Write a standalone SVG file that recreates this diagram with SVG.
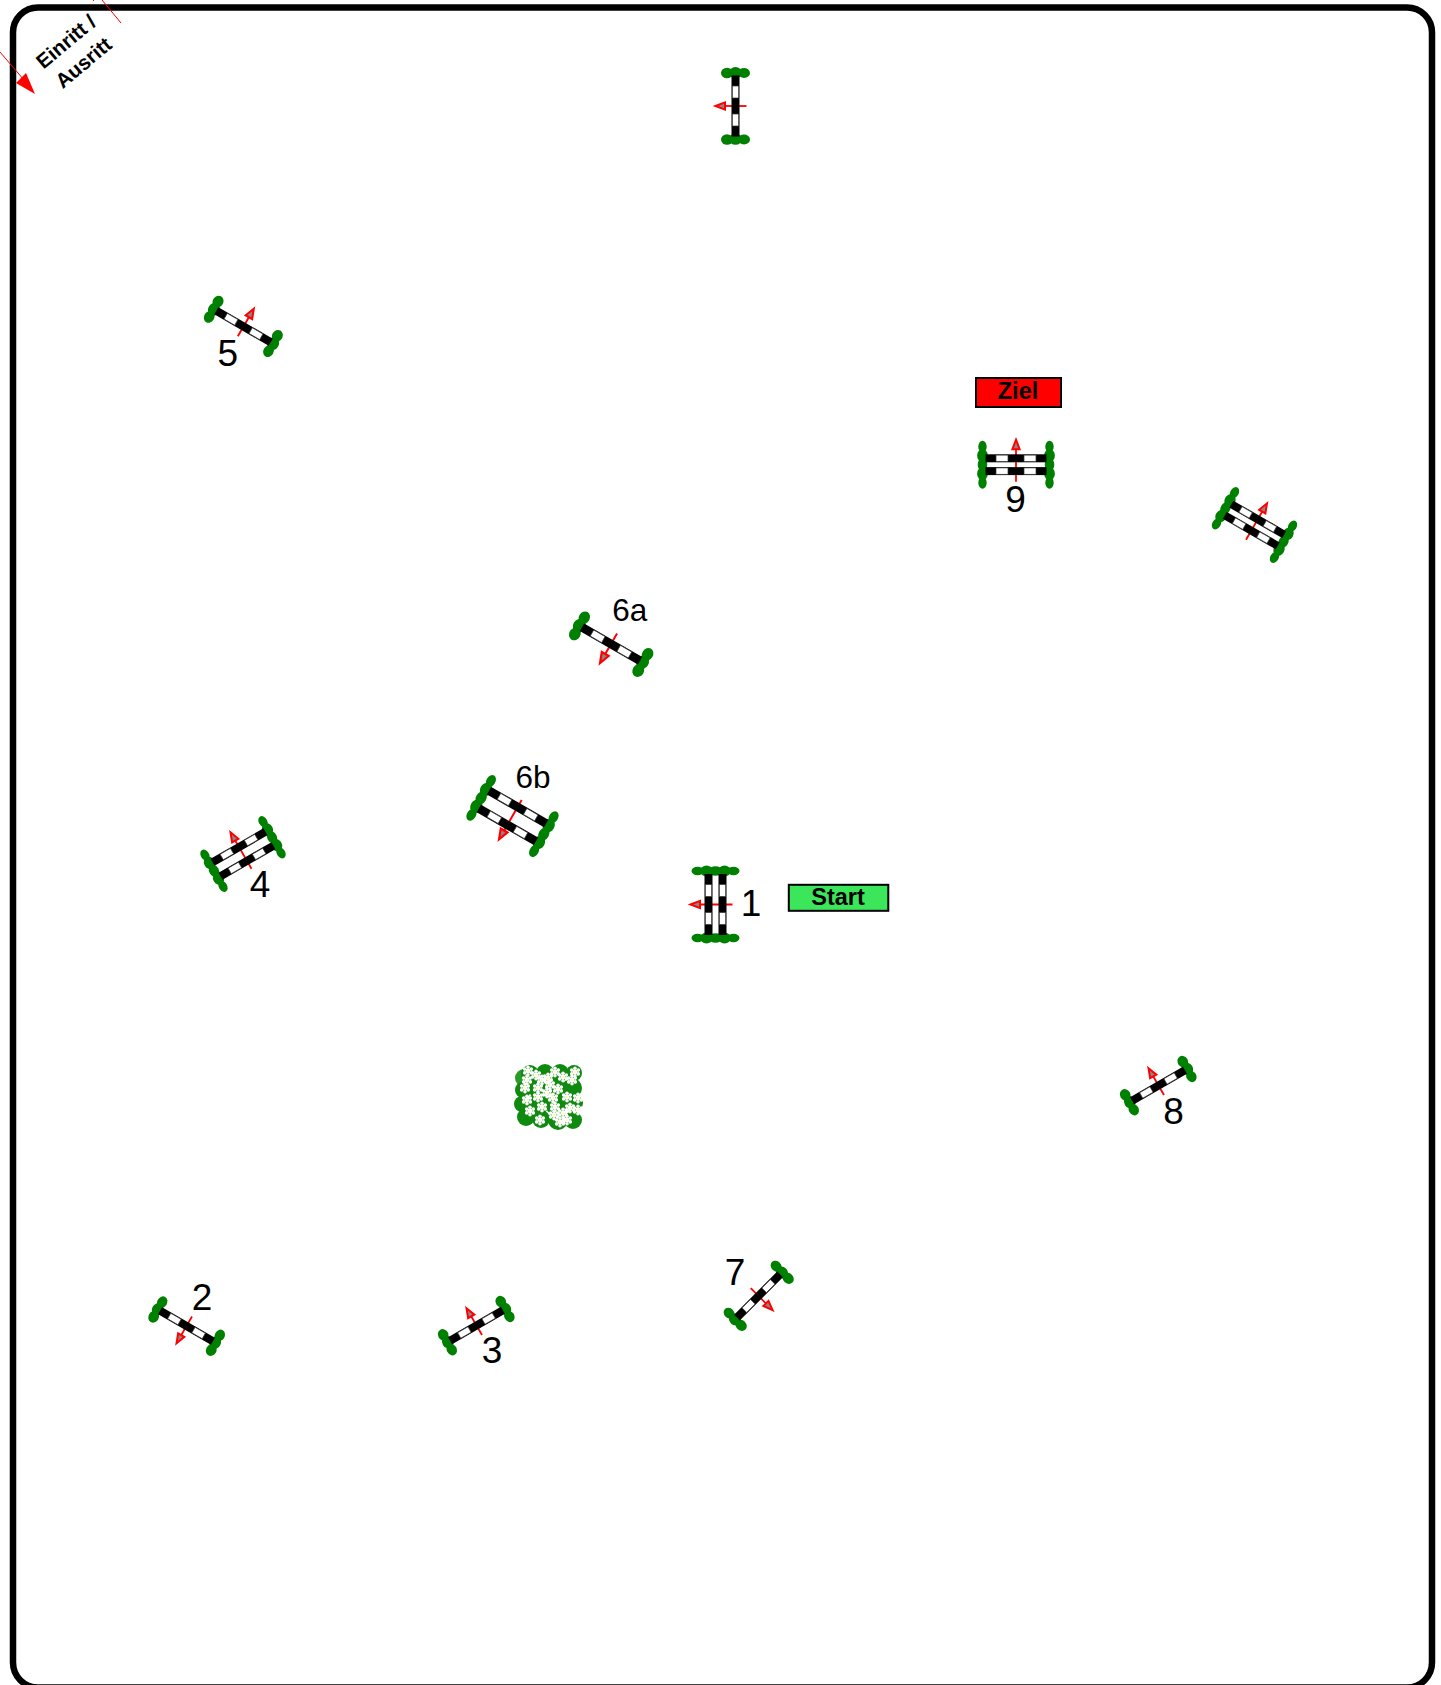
<svg xmlns="http://www.w3.org/2000/svg" width="1441" height="1685" viewBox="0 0 1441 1685">
<style>
text{font-family:"Liberation Sans",Arial,sans-serif;fill:#000}
.num{font-size:37px;text-anchor:middle}
.num2{font-size:31.5px;text-anchor:middle}
.sign{font-size:23.5px;font-weight:bold;text-anchor:middle}
.ent{font-size:20.5px;font-weight:bold;text-anchor:middle}
.leaf{fill:#008000}
.red{stroke:#f00;stroke-width:1.8;fill:none}
.thin{stroke:#f00;stroke-width:1;fill:none}
.head{fill:#888;stroke:#f00;stroke-width:2}
.w{fill:#fff;stroke:#333;stroke-width:.7}
</style>
<defs>
<g id="pole">
<rect x="-4" y="-30.5" width="8" height="61" fill="#000"/>
<rect class="w" x="-3.2" y="-20" width="6.4" height="12"/>
<rect class="w" x="-3.2" y="8" width="6.4" height="12"/>
</g>
<g id="shrub3" class="leaf"><ellipse cx="-8.5" cy="0" rx="6" ry="5.2"/><ellipse cx="0" cy="-.3" rx="6.5" ry="5.6"/><ellipse cx="8.5" cy="0" rx="6" ry="5"/></g>
<g id="shrub5" class="leaf"><ellipse cx="-18" cy="0" rx="6" ry="4.2"/><ellipse cx="-9" cy="0" rx="6.5" ry="5.4"/><ellipse cx="0" cy="0" rx="6.5" ry="4.8"/><ellipse cx="9" cy="0" rx="6.5" ry="5.4"/><ellipse cx="18" cy="0" rx="6" ry="4.2"/></g>
<g id="arrow1"><line class="red" x1="11" y1="0" x2="-11" y2="0"/><polygon class="head" points="-20,0 -10.5,-3.6 -10.5,3.6"/></g>
<g id="arrow2"><line class="red" x1="17" y1="0" x2="-17" y2="0"/><polygon class="head" points="-25,0 -15.5,-3.6 -15.5,3.6"/></g>
<g id="single">
<use href="#arrow1"/>
<use href="#shrub3" y="-33"/><use href="#shrub3" y="33.5"/>
<use href="#pole"/>
</g>
<g id="fl">
<circle cx="0" cy="-3.8" r="1.8" fill="#fff"/><circle cx="3.3" cy="-1.9" r="1.8" fill="#fff"/><circle cx="3.3" cy="1.9" r="1.8" fill="#fff"/><circle cx="0" cy="3.8" r="1.8" fill="#fff"/><circle cx="-3.3" cy="1.9" r="1.8" fill="#fff"/><circle cx="-3.3" cy="-1.9" r="1.8" fill="#fff"/><circle r="2.4" fill="#fff"/><circle r="1" fill="#ffffa0"/>
</g>
</defs>
<rect id="arena" x="13" y="7.5" width="1419" height="1680" rx="25" ry="25" fill="#fff" stroke="#000" stroke-width="6.5"/>

<g id="connectors">
<line class="thin" x1="0" y1="52" x2="24" y2="80"/>
<polygon points="35,94 16,83 26,73" fill="#f00"/>
<line class="thin" x1="102" y1="0" x2="121" y2="23"/>
<line class="thin" x1="93" y1="0" x2="94" y2="1"/>
</g>

<g id="entry">
<text class="ent" transform="translate(70.5,47) rotate(-40)">Einritt /</text>
<text class="ent" transform="translate(88,68) rotate(-40)">Ausritt</text>
</g>

<g id="jump-top"><use href="#single" transform="translate(735.5,106)"/></g>
<g id="jump-5"><use href="#single" transform="translate(243.5,326.5) rotate(120) scale(1.03)"/><text class="num" x="227.8" y="366">5</text></g>
<g id="jump-9">
<g transform="translate(1016,464.7) rotate(90)"><use href="#arrow2"/><use href="#shrub5" y="-33.5"/><use href="#shrub5" y="33.5"/><use href="#pole" x="-6.4"/><use href="#pole" x="6.4"/></g>
<text class="num" x="1015.5" y="512">9</text></g>
<g id="jump-right">
<g transform="translate(1254.5,525) rotate(120)"><use href="#arrow2"/><use href="#shrub5" y="-33.5"/><use href="#shrub5" y="33.5"/><use href="#pole" x="-6.5"/><use href="#pole" x="6.5"/></g>
</g>
<g id="jump-6a"><use href="#single" transform="translate(611,644) rotate(-60) scale(1.1)"/><text class="num2" x="629.7" y="621">6a</text></g>
<g id="jump-6b">
<g transform="translate(512.5,816) rotate(-60) scale(1.08)"><use href="#arrow2"/><use href="#shrub5" y="-33.5"/><use href="#shrub5" y="33.5"/><use href="#pole" x="-9.5"/><use href="#pole" x="9.5"/></g>
<text class="num2" x="533" y="788">6b</text></g>
<g id="jump-4">
<g transform="translate(243,854) rotate(60)"><use href="#arrow2"/><use href="#shrub5" y="-33.5"/><use href="#shrub5" y="33.5"/><use href="#pole" x="-8"/><use href="#pole" x="8"/></g>
<text class="num" x="260" y="897">4</text></g>
<g id="jump-1">
<g transform="translate(715.5,904.5)"><use href="#arrow2"/><use href="#shrub5" y="-33.5"/><use href="#shrub5" y="33.5"/><use href="#pole" x="-7"/><use href="#pole" x="7"/></g>
<text class="num" x="751" y="916">1</text></g>
<g id="jump-8"><use href="#single" transform="translate(1158.5,1085.5) rotate(60)"/><text class="num" x="1173.5" y="1124">8</text></g>
<g id="jump-2"><use href="#single" transform="translate(186.5,1326) rotate(-60)"/><text class="num" x="202" y="1310">2</text></g>
<g id="jump-3"><use href="#single" transform="translate(476.5,1325.5) rotate(60)"/><text class="num" x="492" y="1363">3</text></g>
<g id="jump-7"><use href="#single" transform="translate(758.5,1296) rotate(-135)"/><text class="num" x="735" y="1285">7</text></g>

<g id="start"><rect x="788.8" y="884.8" width="99.5" height="26" fill="#3ce65a" stroke="#000" stroke-width="2"/><text class="sign" x="838" y="904.5">Start</text></g>
<g id="ziel"><rect x="976" y="378" width="85" height="29" fill="#f00" stroke="#000" stroke-width="2"/><text class="sign" x="1018" y="399">Ziel</text></g>

<g id="flowerbed">
<g fill="#0f8a0f">
<circle cx="524" cy="1078" r="9" fill="#2a9a2a"/>
<circle cx="530" cy="1074" r="9"/><circle cx="545" cy="1073" r="9"/><circle cx="560" cy="1073" r="9"/><circle cx="574" cy="1073" r="8"/>
<circle cx="523" cy="1090" r="8"/><circle cx="538" cy="1088" r="10"/><circle cx="555" cy="1088" r="11"/><circle cx="572" cy="1088" r="10"/>
<circle cx="522" cy="1104" r="8"/><circle cx="538" cy="1104" r="11"/><circle cx="556" cy="1104" r="11"/><circle cx="574" cy="1103" r="9"/>
<circle cx="526" cy="1117" r="9"/><circle cx="541" cy="1119" r="9"/><circle cx="558" cy="1120" r="10"/><circle cx="573" cy="1120" r="9"/>
</g>
<use href="#fl" x="528" y="1071"/><use href="#fl" x="527" y="1080"/><use href="#fl" x="536" y="1075"/><use href="#fl" x="525" y="1088"/><use href="#fl" x="542" y="1080"/><use href="#fl" x="548" y="1078"/><use href="#fl" x="555" y="1072"/><use href="#fl" x="563" y="1077"/><use href="#fl" x="575" y="1072"/><use href="#fl" x="572" y="1080"/><use href="#fl" x="550" y="1085"/><use href="#fl" x="538" y="1088"/><use href="#fl" x="558" y="1089"/><use href="#fl" x="547" y="1093"/><use href="#fl" x="567" y="1097"/><use href="#fl" x="578" y="1098"/><use href="#fl" x="553" y="1098"/><use href="#fl" x="527" y="1100"/><use href="#fl" x="542" y="1107"/><use href="#fl" x="530" y="1111"/><use href="#fl" x="555" y="1107"/><use href="#fl" x="570" y="1108"/><use href="#fl" x="578" y="1110"/><use href="#fl" x="563" y="1113"/><use href="#fl" x="554" y="1115"/><use href="#fl" x="540" y="1120"/><use href="#fl" x="560" y="1122"/><use href="#fl" x="567" y="1120"/><use href="#fl" x="538" y="1097"/>
</g>
</svg>
